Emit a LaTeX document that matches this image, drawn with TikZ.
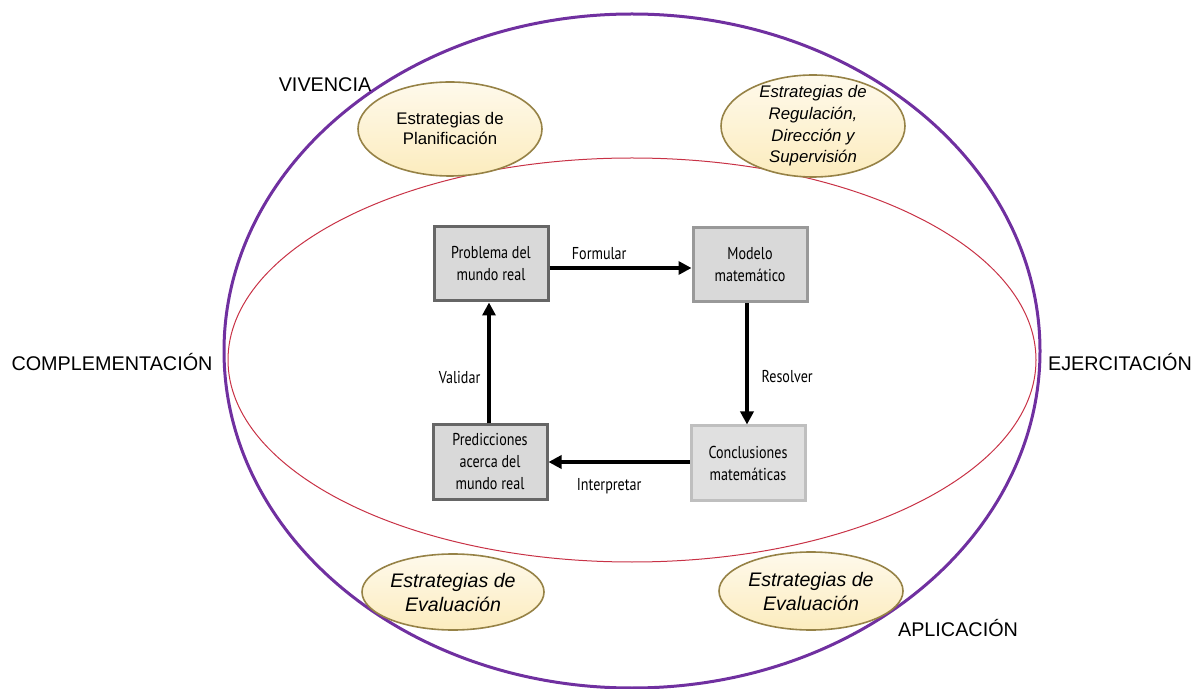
\documentclass[tikz,border=0pt]{standalone}
\usepackage{fontspec}
\setmainfont{Liberation Sans}
\newfontfamily\boxfont{PT Sans}[FakeStretch=0.82]
\usepackage{tikz}
\usetikzlibrary{positioning, arrows.meta, shapes.geometric}
\definecolor{purp}{RGB}{112,48,160}
\definecolor{redl}{RGB}{200,50,70}
\definecolor{cream}{RGB}{252,236,190}
\definecolor{creamb}{RGB}{150,130,70}

\begin{document}
\begin{tikzpicture}[x=0.5pt, y=-0.5pt,
        sn/.style={ellipse, draw=creamb, thick, top color=cream!30, bottom color=cream,
          inner sep=0pt, align=center, font=\fontsize{8.4}{10}\selectfont},
        bx/.style={rectangle, fill=black!15, line width=1.5pt, minimum width=57pt,
          minimum height=37pt, inner sep=1pt, align=center,
          font=\boxfont\fontsize{8.6}{11}\selectfont},
        lb/.style={font=\boxfont\fontsize{8.6}{11}\selectfont},
        ol/.style={font=\fontsize{9.9}{12}\selectfont},
        ->/.style={-{Triangle[length=6.5pt, width=6.5pt]}, line width=2pt}]
      \useasboundingbox (0,0) rectangle (1194,689);
      % outer ellipses
      \draw[purp, line width=1.5pt] (632,351) ellipse [x radius=408, y radius=337];
      \draw[redl, line width=0.5pt] (632,360) ellipse [x radius=404, y radius=202];
      % strategy ellipses
      \node[sn, minimum width=92pt, minimum height=47pt] (plan) at (450,129)
        {Estrategias de\\Planificación};
      \node[sn, minimum width=92pt, minimum height=51pt, inner sep=-3.5pt,
        font=\itshape\fontsize{8.4}{10.8}\selectfont]
        (reg) at (813,126) {Estrategias de\\Regulación,\\Dirección y\\Supervisión};
      \node[sn, minimum width=91pt, minimum height=38pt, font=\itshape\fontsize{9.8}{12}\selectfont]
        (evl) at (453,592) {Estrategias de\\Evaluación};
      \node[sn, minimum width=92pt, minimum height=39pt, font=\itshape\fontsize{9.8}{12}\selectfont]
        (evr) at (811,591) {Estrategias de\\Evaluación};
      % cycle boxes
      \node[bx, draw=black!60] (prob) at (491,264) {Problema del\\mundo real};
      \node[bx, draw=black!40] (mod) at (750,265) {Modelo\\matemático};
      \node[bx, draw=black!25, fill=black!12] (conc) at (748,463) {Conclusiones\\matemáticas};
      \node[bx, draw=black!60] (pred) at (490,462) {Predicciones\\acerca del\\mundo real};
      \draw [->] (prob.east |- 0,268) to node[lb, above=0pt, pos=0.35] {Formular} (mod.west |- 0,268);
      \draw [->] (mod.south -| 747,0) to node[lb, right=3pt, pos=0.6] {Resolver} (conc.north -| 747,0);
      \draw [->] (conc.west |- 0,462) to node[lb, below=4pt, pos=0.57] {Interpretar} (pred.east |- 0,462);
      \draw [->] (pred.north -| 489,0) to node[lb, left=0pt, pos=0.38] {Validar} (prob.south -| 489,0);
      % outer labels
      \node[ol] (viv) at (325,85) {VIVENCIA};
      \node[ol] (eje) at (1120,362) {EJERCITACIÓN};
      \node[ol] (comp) at (112,362) {COMPLEMENTACIÓN};
      \node[ol] (apl) at (958,628) {APLICACIÓN};
    \end{tikzpicture}
\end{document}
